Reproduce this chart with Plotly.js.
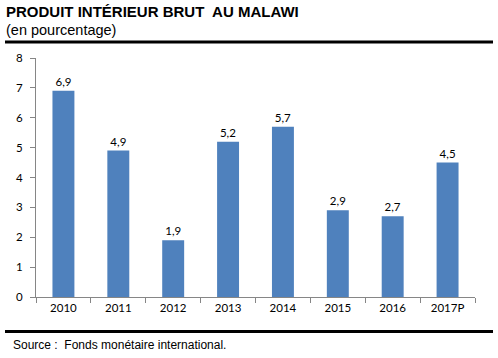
<!DOCTYPE html>
<html>
<head>
<meta charset="utf-8">
<script src="https://cdn.plot.ly/plotly-3.0.1.min.js"></script>
<style>html,body{margin:0;padding:0;background:#fff;}#chart{width:498px;height:358px;}</style>
</head>
<body>
<div id="chart"></div>
<script>
const categories = ["2010", "2011", "2012", "2013", "2014", "2015", "2016", "2017P"];
const growth = [6.9, 4.9, 1.9, 5.2, 5.7, 2.9, 2.7, 4.5];
const yTicks = [0, 1, 2, 3, 4, 5, 6, 7, 8];

const L = 36, R = 475, T = 58, B = 297;
const W = R - L, H = B - T;
const px = x => (x - L) / W;
const py = y => (B - y) / H;

const tickFont = {family: "Lato, 'Open Sans', sans-serif", size: 11.5, color: "#000"};

const trace = {
  type: "bar",
  x: categories,
  y: growth,
  marker: {color: "#4F81BD"},
  texttemplate: "%{y:.1f}",
  textposition: "outside",
  cliponaxis: false,
  textfont: tickFont,
  hoverinfo: "none"
};

const layout = {
  width: 498, height: 358,
  margin: {l: L, r: 498 - R, t: T, b: 358 - B, pad: 0},
  paper_bgcolor: "#fff", plot_bgcolor: "#fff",
  separators: ", ",
  showlegend: false,
  bargap: 0.6,
  xaxis: {
    type: "category",
    showline: true, linecolor: "#868686", linewidth: 1,
    ticks: "outside", tickson: "boundaries", ticklen: 5, tickcolor: "#868686",
    tickfont: tickFont, showgrid: false, zeroline: false,
    fixedrange: true
  },
  yaxis: {
    range: [0, 8], tickvals: yTicks, ticktext: yTicks.map(String),
    showline: true, linecolor: "#868686", linewidth: 1,
    ticks: "outside", ticklen: 5, tickcolor: "#868686",
    ticklabelstandoff: 5,
    tickfont: tickFont, showgrid: false, zeroline: false,
    fixedrange: true
  },
  shapes: [
    {type: "line", xref: "paper", yref: "paper", x0: px(5), x1: px(493), y0: py(42), y1: py(42), line: {color: "#000", width: 3}},
    {type: "line", xref: "paper", yref: "paper", x0: px(5), x1: px(493), y0: py(331.5), y1: py(331.5), line: {color: "#000", width: 3}}
  ],
  annotations: [
    {xref: "paper", yref: "paper", x: px(4), y: py(11.5), xanchor: "left", yanchor: "middle", showarrow: false,
     text: "<b>PRODUIT INTÉRIEUR BRUT  AU MALAWI</b>",
     font: {family: "Liberation Sans, Arial, sans-serif", size: 15, color: "#000"}},
    {xref: "paper", yref: "paper", x: px(4), y: py(30), xanchor: "left", yanchor: "middle", showarrow: false,
     text: "(en pourcentage)",
     font: {family: "Liberation Sans, Arial, sans-serif", size: 14.5, color: "#000"}},
    {xref: "paper", yref: "paper", x: px(11), y: py(345), xanchor: "left", yanchor: "middle", showarrow: false,
     text: "Source :  Fonds monétaire international.",
     font: {family: "Liberation Sans, Arial, sans-serif", size: 12, color: "#000"}}
  ]
};

Plotly.newPlot("chart", [trace], layout, {staticPlot: true, displayModeBar: false});
</script>
</body>
</html>
